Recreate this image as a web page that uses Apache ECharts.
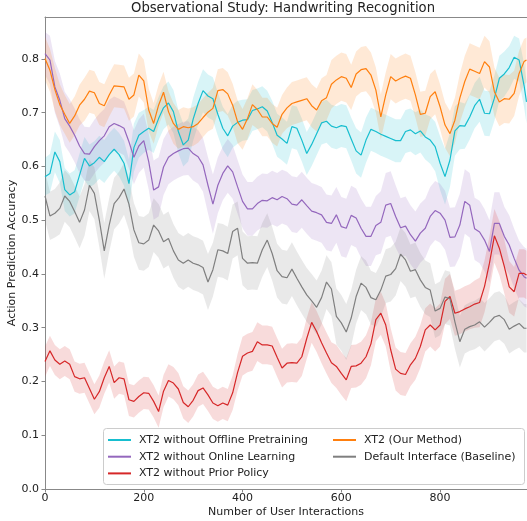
<!DOCTYPE html>
<html><head><meta charset="utf-8">
<script src="https://cdn.jsdelivr.net/npm/echarts@6/dist/echarts.min.js"></script>
<style>html,body{margin:0;padding:0;background:#fff}#c{width:527px;height:521px}</style>
</head><body><div id="c"></div>
<script>
const xs = [0,10,20,30,40,50,60,70,80,90,
  100,110,120,130,140,150,160,170,180,190,
  200,210,220,230,240,250,260,270,280,290,
  300,310,320,330,340,350,360,370,380,390,
  400,410,420,430,440,450,460,470,480,490,
  500,510,520,530,540,550,560,570,580,590,
  600,610,620,630,640,650,660,670,680,690,
  700,710,720,730,740,750,760,770,780,790,
  800,810,820,830,840,850,860,870,880,890,
  900,910,920,930,940,950,960,970,975];

const seriesNames = ['XT2 without Offline Pretraining','XT2 without Online Learning','XT2 without Prior Policy','XT2 (Our Method)','Default Interface (Baseline)'];
const seriesColors = ['#17becf','#9467bd','#d62728','#ff7f0e','#7f7f7f'];

const cyanMean = [0.581,0.587,0.627,0.609,0.557,0.547,0.553,0.584,0.615,0.601,
  0.607,0.617,0.609,0.622,0.632,0.622,0.606,0.568,0.635,0.658,
  0.665,0.671,0.665,0.689,0.709,0.718,0.702,0.665,0.640,0.649,
  0.688,0.717,0.741,0.731,0.726,0.697,0.671,0.657,0.675,0.682,
  0.686,0.687,0.704,0.707,0.711,0.703,0.682,0.658,0.651,0.643,
  0.674,0.671,0.649,0.624,0.641,0.661,0.681,0.684,0.675,0.672,
  0.676,0.674,0.651,0.629,0.621,0.649,0.669,0.665,0.660,0.656,
  0.652,0.648,0.648,0.665,0.668,0.661,0.666,0.655,0.649,0.637,
  0.606,0.581,0.612,0.666,0.676,0.675,0.692,0.713,0.725,0.699,
  0.698,0.727,0.764,0.772,0.784,0.803,0.798,0.751,0.720];
const cyanSpread = [0.035,0.036,0.038,0.040,0.040,0.040,0.040,0.040,0.040,0.040,
  0.040,0.040,0.040,0.040,0.040,0.040,0.042,0.045,0.045,0.042,
  0.040,0.040,0.040,0.040,0.040,0.040,0.040,0.040,0.040,0.040,
  0.040,0.040,0.040,0.040,0.040,0.040,0.040,0.040,0.040,0.040,
  0.038,0.038,0.038,0.038,0.038,0.038,0.040,0.040,0.040,0.040,
  0.040,0.040,0.040,0.040,0.040,0.040,0.040,0.040,0.040,0.040,
  0.040,0.040,0.040,0.042,0.042,0.042,0.040,0.040,0.040,0.040,
  0.040,0.040,0.040,0.040,0.040,0.040,0.040,0.042,0.044,0.046,
  0.050,0.052,0.050,0.046,0.044,0.042,0.042,0.042,0.042,0.042,
  0.042,0.042,0.042,0.042,0.040,0.040,0.040,0.040,0.040];

const purpleMean = [0.810,0.798,0.748,0.723,0.689,0.675,0.658,0.638,0.624,0.623,
  0.637,0.648,0.657,0.674,0.680,0.676,0.671,0.646,0.617,0.638,
  0.648,0.609,0.556,0.562,0.599,0.617,0.624,0.629,0.633,0.634,
  0.624,0.618,0.603,0.565,0.530,0.565,0.587,0.601,0.590,0.562,
  0.535,0.521,0.521,0.531,0.537,0.536,0.542,0.538,0.544,0.540,
  0.530,0.528,0.538,0.527,0.517,0.514,0.510,0.496,0.494,0.510,
  0.488,0.485,0.509,0.504,0.485,0.470,0.470,0.490,0.496,0.528,
  0.531,0.507,0.486,0.489,0.473,0.461,0.476,0.485,0.507,0.518,
  0.513,0.500,0.468,0.469,0.491,0.535,0.528,0.484,0.478,0.463,
  0.442,0.494,0.494,0.470,0.454,0.429,0.407,0.395,0.392];
const purpleSpread = [0.040,0.045,0.048,0.050,0.050,0.050,0.050,0.050,0.050,0.050,
  0.050,0.050,0.050,0.050,0.050,0.050,0.050,0.050,0.050,0.050,
  0.050,0.052,0.055,0.055,0.052,0.050,0.050,0.050,0.050,0.050,
  0.050,0.050,0.050,0.052,0.055,0.052,0.050,0.050,0.050,0.050,
  0.050,0.050,0.050,0.050,0.050,0.050,0.050,0.050,0.050,0.050,
  0.052,0.052,0.052,0.052,0.052,0.052,0.052,0.052,0.052,0.052,
  0.055,0.055,0.055,0.055,0.055,0.055,0.055,0.055,0.058,0.060,
  0.060,0.058,0.055,0.055,0.055,0.055,0.055,0.055,0.055,0.055,
  0.055,0.055,0.055,0.055,0.058,0.060,0.060,0.058,0.058,0.058,
  0.058,0.058,0.058,0.055,0.055,0.055,0.055,0.055,0.055];

const redMean = [0.237,0.257,0.240,0.232,0.238,0.232,0.209,0.205,0.207,0.187,
  0.167,0.181,0.207,0.228,0.198,0.207,0.205,0.166,0.163,0.172,
  0.179,0.178,0.163,0.144,0.182,0.202,0.197,0.186,0.161,0.153,
  0.165,0.183,0.188,0.175,0.160,0.155,0.160,0.156,0.179,0.217,
  0.247,0.253,0.256,0.274,0.268,0.268,0.266,0.245,0.225,0.234,
  0.235,0.234,0.246,0.280,0.310,0.293,0.272,0.253,0.235,0.228,
  0.215,0.203,0.228,0.229,0.234,0.246,0.270,0.315,0.327,0.305,
  0.259,0.223,0.215,0.213,0.231,0.243,0.265,0.296,0.305,0.296,
  0.305,0.349,0.358,0.327,0.330,0.335,0.339,0.344,0.347,0.377,
  0.420,0.471,0.448,0.414,0.376,0.367,0.401,0.401,0.398];
const redSpread = [0.028,0.028,0.028,0.028,0.028,0.028,0.028,0.028,0.028,0.028,
  0.028,0.030,0.030,0.030,0.030,0.030,0.030,0.030,0.030,0.030,
  0.030,0.030,0.030,0.030,0.030,0.030,0.030,0.030,0.030,0.030,
  0.030,0.030,0.030,0.030,0.030,0.030,0.030,0.030,0.032,0.034,
  0.036,0.036,0.036,0.036,0.036,0.036,0.036,0.036,0.036,0.036,
  0.036,0.036,0.036,0.038,0.038,0.038,0.038,0.038,0.038,0.040,
  0.040,0.040,0.040,0.040,0.040,0.040,0.040,0.040,0.040,0.040,
  0.040,0.040,0.040,0.040,0.040,0.040,0.040,0.040,0.040,0.040,
  0.040,0.042,0.042,0.042,0.042,0.042,0.042,0.044,0.046,0.048,
  0.050,0.050,0.050,0.050,0.048,0.046,0.045,0.045,0.045];

const orangeMean = [0.801,0.779,0.743,0.715,0.697,0.680,0.694,0.714,0.725,0.740,
  0.737,0.717,0.713,0.733,0.750,0.749,0.748,0.725,0.733,0.770,
  0.759,0.705,0.680,0.714,0.738,0.702,0.680,0.669,0.674,0.672,
  0.674,0.680,0.691,0.701,0.708,0.741,0.743,0.735,0.714,0.683,
  0.669,0.689,0.715,0.706,0.692,0.692,0.680,0.673,0.697,0.709,
  0.717,0.720,0.723,0.726,0.713,0.705,0.722,0.728,0.753,0.761,
  0.767,0.764,0.747,0.772,0.780,0.782,0.770,0.742,0.692,0.733,
  0.767,0.759,0.764,0.768,0.764,0.733,0.697,0.699,0.730,0.739,
  0.711,0.677,0.661,0.686,0.727,0.758,0.781,0.777,0.773,0.795,
  0.785,0.739,0.720,0.726,0.725,0.736,0.773,0.795,0.798];
const orangeSpread = [0.040,0.040,0.040,0.038,0.036,0.036,0.036,0.038,0.040,0.040,
  0.040,0.040,0.040,0.040,0.040,0.040,0.040,0.040,0.040,0.040,
  0.040,0.040,0.038,0.038,0.038,0.038,0.038,0.036,0.036,0.036,
  0.036,0.036,0.036,0.036,0.038,0.040,0.040,0.040,0.040,0.040,
  0.038,0.038,0.038,0.036,0.036,0.036,0.036,0.036,0.036,0.038,
  0.040,0.040,0.040,0.040,0.040,0.040,0.042,0.042,0.045,0.045,
  0.045,0.045,0.042,0.042,0.042,0.042,0.042,0.042,0.042,0.042,
  0.042,0.042,0.042,0.042,0.042,0.042,0.042,0.042,0.042,0.042,
  0.042,0.042,0.042,0.042,0.045,0.048,0.048,0.048,0.048,0.048,
  0.048,0.045,0.045,0.045,0.045,0.042,0.042,0.042,0.042];

const grayMean = [0.545,0.508,0.513,0.522,0.545,0.535,0.516,0.496,0.519,0.565,
  0.550,0.500,0.443,0.491,0.531,0.542,0.558,0.530,0.482,0.458,
  0.456,0.463,0.491,0.480,0.460,0.466,0.443,0.426,0.420,0.426,
  0.420,0.417,0.412,0.385,0.408,0.445,0.443,0.438,0.479,0.485,
  0.429,0.420,0.421,0.420,0.445,0.463,0.438,0.406,0.395,0.393,
  0.409,0.392,0.376,0.361,0.350,0.338,0.356,0.385,0.372,0.321,
  0.309,0.292,0.318,0.358,0.383,0.375,0.356,0.352,0.370,0.396,
  0.399,0.410,0.437,0.426,0.405,0.408,0.389,0.375,0.370,0.331,
  0.336,0.357,0.354,0.311,0.274,0.297,0.302,0.305,0.311,0.301,
  0.310,0.320,0.323,0.315,0.297,0.303,0.308,0.299,0.299];
const graySpread = [0.045,0.045,0.045,0.048,0.048,0.048,0.048,0.048,0.048,0.048,
  0.048,0.050,0.052,0.050,0.048,0.048,0.048,0.048,0.050,0.050,
  0.050,0.050,0.050,0.050,0.050,0.050,0.050,0.050,0.050,0.050,
  0.050,0.050,0.050,0.052,0.050,0.050,0.050,0.050,0.050,0.050,
  0.050,0.050,0.050,0.050,0.050,0.050,0.050,0.050,0.050,0.050,
  0.050,0.050,0.050,0.050,0.050,0.050,0.050,0.050,0.050,0.052,
  0.052,0.052,0.052,0.050,0.050,0.050,0.050,0.050,0.050,0.050,
  0.050,0.050,0.050,0.050,0.050,0.050,0.050,0.050,0.050,0.050,
  0.050,0.050,0.050,0.050,0.048,0.045,0.045,0.045,0.045,0.045,
  0.045,0.045,0.045,0.045,0.045,0.045,0.045,0.045,0.045];

const xTicks = [0,200,400,600,800];
const yTicks = [0,0.1,0.2,0.3,0.4,0.5,0.6,0.7,0.8];

const means = [cyanMean, purpleMean, redMean, orangeMean, grayMean];
const spreads = [cyanSpread, purpleSpread, redSpread, orangeSpread, graySpread];
const FONT = 'DejaVu Sans';

function pairs(arr){ return xs.map((x,i)=>[x, arr[i]]); }
function bandSeries(k){
  const m = means[k], s = spreads[k];
  return {
    type:'custom', name: seriesNames[k] + ' band', silent:true, z:1, clip:true,
    data:[[0,0]], encode:{x:0,y:1},
    renderItem:(params, api)=>{
      const up = xs.map((x,i)=>api.coord([x, m[i]+s[i]]));
      const lo = xs.map((x,i)=>api.coord([x, m[i]-s[i]])).reverse();
      return {type:'polygon', shape:{points: up.concat(lo)}, style:{fill: seriesColors[k], opacity: 0.17}};
    }
  };
}
function lineSeries(k){
  return {
    type:'line', name: seriesNames[k], data: pairs(means[k]), symbol:'none', showSymbol:false,
    lineStyle:{width:1.2, color: seriesColors[k]}, itemStyle:{color: seriesColors[k]}, z:3+k, silent:true
  };
}

const chart = echarts.init(document.getElementById('c'), null, {renderer:'canvas'});
const legendCommon = {
  orient:'vertical', icon:'rect', itemWidth:23, itemHeight:2, itemGap:4.7, padding:0, z:20,
  textStyle:{fontFamily:FONT, fontSize:11, color:'#222', lineHeight:12, padding:[0,0,0,3]},
  selectedMode:false
};
chart.setOption({
  animation:false,
  backgroundColor:'#fff',
  title:{text:'Observational Study: Handwriting Recognition', left:131, top:2, padding:0,
    textStyle:{fontFamily:FONT, fontSize:13.2, fontWeight:'normal', color:'#222'}},
  grid:{left:45, top:17, right:0, bottom:32, outerBoundsMode:'none', containLabel:false},
  xAxis:[{
    type:'value', min:0, max:976, position:'bottom',
    name:'Number of User Interactions', nameLocation:'middle', nameGap:18, nameMoveOverlap:false,
    nameTextStyle:{fontFamily:FONT, fontSize:11, color:'#222'},
    axisLine:{lineStyle:{color:'#888', width:1}},
    axisTick:{length:3.5, lineStyle:{color:'#888'}, customValues:xTicks},
    axisLabel:{fontFamily:FONT, fontSize:11, color:'#222', margin:4, customValues:xTicks},
    splitLine:{show:false}
  },{
    type:'value', min:0, max:976, position:'top',
    axisLine:{show:true, lineStyle:{color:'#888', width:1}},
    axisTick:{show:false}, axisLabel:{show:false}, splitLine:{show:false}
  }],
  yAxis:{
    type:'value', min:0, max:0.878,
    name:'Action Prediction Accuracy', nameLocation:'middle', nameGap:27, nameMoveOverlap:false,
    nameTextStyle:{fontFamily:FONT, fontSize:11, color:'#222'},
    axisLine:{show:true, lineStyle:{color:'#888', width:1}},
    axisTick:{show:true, length:3.5, lineStyle:{color:'#888'}, customValues:yTicks},
    axisLabel:{fontFamily:FONT, fontSize:11, color:'#222', margin:6, customValues:yTicks,
      formatter:v=>v.toFixed(1)},
    splitLine:{show:false}
  },
  legend:[
    Object.assign({}, legendCommon, {data:[seriesNames[0],seriesNames[1],seriesNames[2]], left:108, top:434}),
    Object.assign({}, legendCommon, {data:[seriesNames[3],seriesNames[4]], left:333, top:434})
  ],
  graphic:[{
    type:'rect', z:10, shape:{x:103.5, y:428.5, width:421, height:56, r:3},
    style:{fill:'rgba(255,255,255,0.8)', stroke:'#cccccc', lineWidth:1}
  }],
  series:[0,1,2,3,4].map(bandSeries).concat([0,1,2,3,4].map(lineSeries))
});
</script>
</body></html>
